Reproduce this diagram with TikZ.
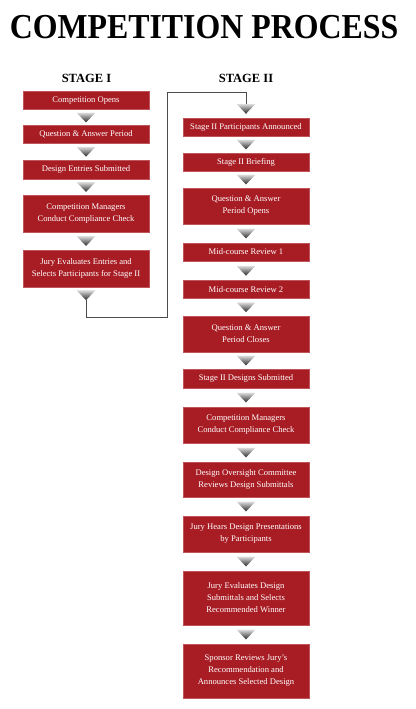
\documentclass[tikz,border=0pt]{standalone}
\usepackage{fontspec}
\setmainfont{Liberation Serif}
\usetikzlibrary{calc}
\usetikzlibrary{positioning}
\definecolor{boxred}{RGB}{168,28,36}
\tikzset{stepbox/.style = {fill=boxred, draw=boxred!75!white, line width=0.4pt,
                           text=white, minimum width=126pt, minimum height=#1,
                           inner sep=0pt, align=center,
                           font=\fontsize{8.6}{12}\selectfont},
         stepbox/.default = 18pt}
\tikzset{downtri/.style = {top color=gray!25, bottom color=black!85}}
\tikzset{link/.style = {draw=black!70, line width=0.9pt}}
\newcommand{\tri}[1]{\shade[downtri] (#1) ++(-9.5,-5) -- ++(19,0) -- ++(-9.5,10) -- cycle;}

\begin{document}
\begin{tikzpicture}[x=1pt, y=-1pt]
      \useasboundingbox (0,0) rectangle (415,709);

      \node [anchor=base, font=\bfseries\fontsize{35}{40}\selectfont] (title) at (204,38)
            {\scalebox{0.91}[1]{COMPETITION PROCESS}};
      \node [anchor=base, font=\bfseries\fontsize{12.5}{14}\selectfont] (stageI) at (86.5,82) {STAGE I};
      \node [anchor=base, font=\bfseries\fontsize{12.5}{14}\selectfont] (stageII) at (246,82) {STAGE II};

      % stage I
      \node [stepbox] (i1) at (86,100.5) {Competition Opens};
      \node [stepbox] (i2) at (86,134.5) {Question \& Answer Period};
      \node [stepbox=19pt] (i3) at (86,169.5) {Design Entries Submitted};
      \node [stepbox=37pt] (i4) at (86,213.5) {Competition Managers\\Conduct Compliance Check};
      \node [stepbox=37pt] (i5) at (86,268.5) {Jury Evaluates Entries and\\Selects Participants for Stage II};

      % stage II
      \node [stepbox] (ii1) at (246,127) {Stage II Participants Announced};
      \node [stepbox] (ii2) at (246,162) {Stage II Briefing};
      \node [stepbox=36pt] (ii3) at (246,206) {Question \& Answer\\Period Opens};
      \node [stepbox] (ii4) at (246,252) {Mid-course Review 1};
      \node [stepbox] (ii5) at (246,289.5) {Mid-course Review 2};
      \node [stepbox=36pt] (ii6) at (246,334) {Question \& Answer\\Period Closes};
      \node [stepbox=19pt] (ii7) at (246,378.5) {Stage II Designs Submitted};
      \node [stepbox=36pt] (ii8) at (246,425) {Competition Managers\\Conduct Compliance Check};
      \node [stepbox=35pt] (ii9) at (246,479.5) {Design Oversight Committee\\Reviews Design Submittals};
      \node [stepbox=36pt] (ii10) at (246,534) {Jury Hears Design Presentations\\by Participants};
      \node [stepbox=54pt] (ii11) at (246,598) {Jury Evaluates Design\\Submittals and Selects\\Recommended Winner};
      \node [stepbox=54pt] (ii12) at (246,671) {Sponsor Reviews Jury's\\Recommendation and\\Announces Selected Design};

      % arrows between the boxes
      \foreach \a/\b in {i1/i2, i2/i3, i3/i4, i4/i5,
                         ii1/ii2, ii2/ii3, ii3/ii4, ii4/ii5, ii5/ii6, ii6/ii7,
                         ii7/ii8, ii8/ii9, ii9/ii10, ii10/ii11, ii11/ii12}
        {\tri{$(\a.south)!0.5!(\b.north)$}}

      % from stage I over to stage II
      \coordinate (iout) at ($(i5.south)+(0,8)$);
      \coordinate (iiin) at ($(ii1.north)+(0,-9)$);
      \coordinate (low) at (167,317);
      \coordinate (high) at (167,92);
      \draw [link] ($(iout)+(0,5)$) |- (low) -- (high) -| ($(iiin)+(0,-5)$);
      \tri{iout}
      \tri{iiin}
\end{tikzpicture}
\end{document}
